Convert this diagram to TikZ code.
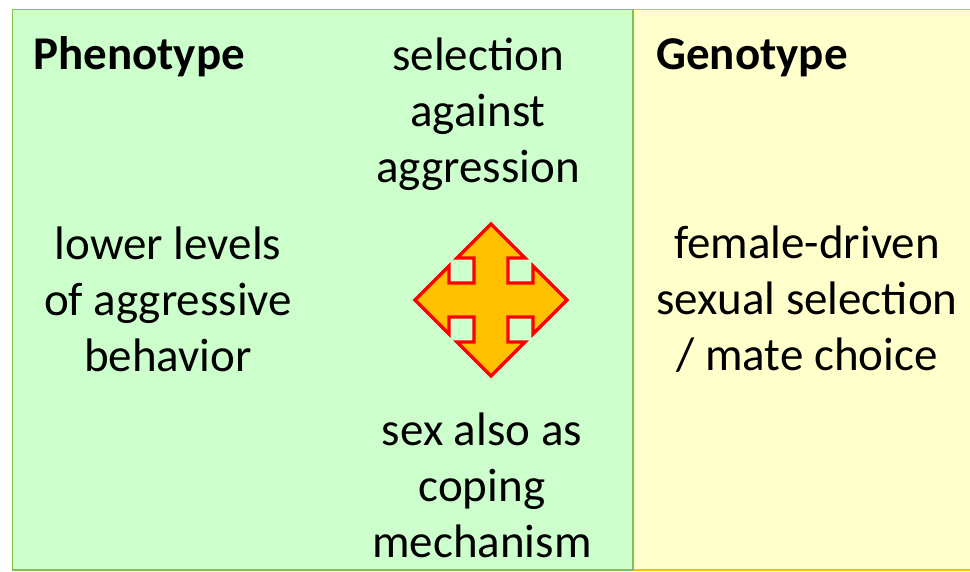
\documentclass[tikz,border=0pt]{standalone}
\usepackage{fontspec}
\setmainfont{Carlito}
\definecolor{pgreen}{RGB}{204,255,204}
\definecolor{pgreenline}{RGB}{130,192,80}
\definecolor{pyellow}{RGB}{255,255,204}
\definecolor{pyellowline}{RGB}{255,192,0}
\definecolor{arrowfill}{RGB}{255,192,0}
\definecolor{arrowline}{RGB}{255,0,0}
\tikzset{
  bigtext/.style={font=\fontsize{47}{56}\selectfont, align=center, inner sep=0pt, text=black},
  headtext/.style={font=\fontsize{47}{56}\selectfont\bfseries, anchor=base west, inner sep=0pt, text=black},
}
\begin{document}
\begin{tikzpicture}[x=1pt,y=-1pt]
\useasboundingbox (0,0) rectangle (970,571);
% panels
\fill[white] (0,0) rectangle (970,571);
\draw[fill=pyellow, draw=pyellowline, line width=1.5pt] (633,9.5) rectangle (980,570);
\draw[fill=pgreen, draw=pgreenline, line width=1.5pt] (12.5,9.5) rectangle (633,570);
% headings
\node[headtext] (pheno) at (33,69) {Phenotype};
\node[headtext] (geno) at (656,69) {Genotype};
% texts
\node[bigtext] (sel) at (478,114) {selection\\against\\aggression};
\node[bigtext] (low) at (168,299) {lower levels\\of aggressive\\behavior};
\node[bigtext] (fem) at (807,299) {female-driven\\sexual selection\\/ mate choice};
\node[bigtext] (sex) at (482,485) {sex also as\\coping\\mechanism};
% quad arrow
\begin{scope}[shift={(491,300)}]
\draw[fill=arrowfill, draw=arrowline, line width=3.2pt, line join=miter]
 (0,-76) -- (-34,-42) -- (-17,-42) -- (-17,-17) -- (-42,-17) -- (-42,-34)
 -- (-76,0) -- (-42,34) -- (-42,17) -- (-17,17) -- (-17,42) -- (-34,42)
 -- (0,76) -- (34,42) -- (17,42) -- (17,17) -- (42,17) -- (42,34)
 -- (76,0) -- (42,-34) -- (42,-17) -- (17,-17) -- (17,-42) -- (34,-42) -- cycle;
\end{scope}
\end{tikzpicture}
\end{document}
